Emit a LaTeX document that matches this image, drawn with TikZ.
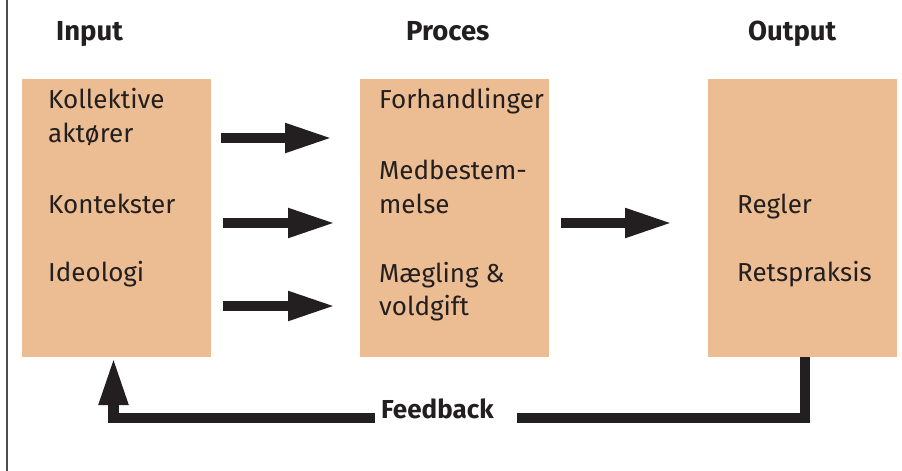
\documentclass[tikz,border=0pt]{standalone}
\usepackage{fontspec}
\setmainfont{Fira Sans}
\usetikzlibrary{arrows.meta}
\definecolor{boxfill}{RGB}{236,189,146}
\definecolor{ink}{RGB}{35,31,32}
\tikzset{
  panel/.style={fill=boxfill, draw=none, anchor=north west, inner sep=0pt},
  head/.style={anchor=base west, inner sep=0pt, font=\fontsize{27.5}{32}\selectfont\bfseries, text=ink},
  fbtext/.style={anchor=base west, inner sep=0pt, font=\fontsize{26}{30}\selectfont\bfseries, text=ink},
  item/.style={anchor=base west, inner sep=0pt, font=\fontsize{26}{30}\selectfont, text=ink},
  bigarrow/.style={draw=ink, line width=10.5pt, line cap=butt,
    -{Triangle[length=48pt, width=27pt]}},
  fbline/.style={draw=ink, line width=10.5pt, line cap=butt, line join=miter},
}
\begin{document}
\begin{tikzpicture}[x=1pt, y=-1pt]
  \useasboundingbox (0,0) rectangle (902,471);
  % frame line on the left
  \draw[draw=ink!80, line width=1.5pt] (7,0) -- (7,471);

  % column headings
  \node[head] (hin)   at (56,40)  {Input};
  \node[head] (hproc) at (406,40) {Proces};
  \node[head] (hout)  at (748,40) {Output};

  % the three panels
  \node[panel, minimum width=189pt, minimum height=278pt] (in)   at (22,79)  {};
  \node[panel, minimum width=189pt, minimum height=278pt] (proc) at (360,79) {};
  \node[panel, minimum width=189pt, minimum height=278pt] (out)  at (708,79) {};

  % panel contents
  \node[item] (i1)  at (48,108)  {Kollektive};
  \node[item] (i1b) at (48,142)  {aktører};
  \node[item] (i2)  at (48,213)  {Kontekster};
  \node[item] (i3)  at (48,281)  {Ideologi};

  \node[item] (p1)  at (379,108) {Forhandlinger};
  \node[item] (p2)  at (379,179) {Medbestem-};
  \node[item] (p2b) at (379,213) {melse};
  \node[item] (p3)  at (379,282) {Mægling \&};
  \node[item] (p3b) at (379,315) {voldgift};

  \node[item] (o1)  at (737,213) {Regler};
  \node[item] (o2)  at (737,281) {Retspraksis};

  % input -> process arrows
  \coordinate (a1s) at (221,138); \coordinate (a1e) at (333,138);
  \coordinate (a2s) at (223,223); \coordinate (a2e) at (336,223);
  \coordinate (a3s) at (223,306); \coordinate (a3e) at (336,306);
  \draw[bigarrow] (a1s) -- (a1e);
  \draw[bigarrow] (a2s) -- (a2e);
  \draw[bigarrow] (a3s) -- (a3e);

  % process -> output arrow
  \coordinate (a4s) at (561,223); \coordinate (a4e) at (673,223);
  \draw[bigarrow] (a4s) -- (a4e);

  % feedback loop
  \node[fbtext] (fb) at (381,418) {Feedback};
  \coordinate (fbr) at (517,418);
  \coordinate (fbl) at (375,418);
  \draw[fbline] (805,357) -- (805,418) -- (fbr);
  \draw[fbline, -{Triangle[length=48pt, width=27pt]}] (fbl) -- (113.5,418) -- (113.5,357);
\end{tikzpicture}
\end{document}
